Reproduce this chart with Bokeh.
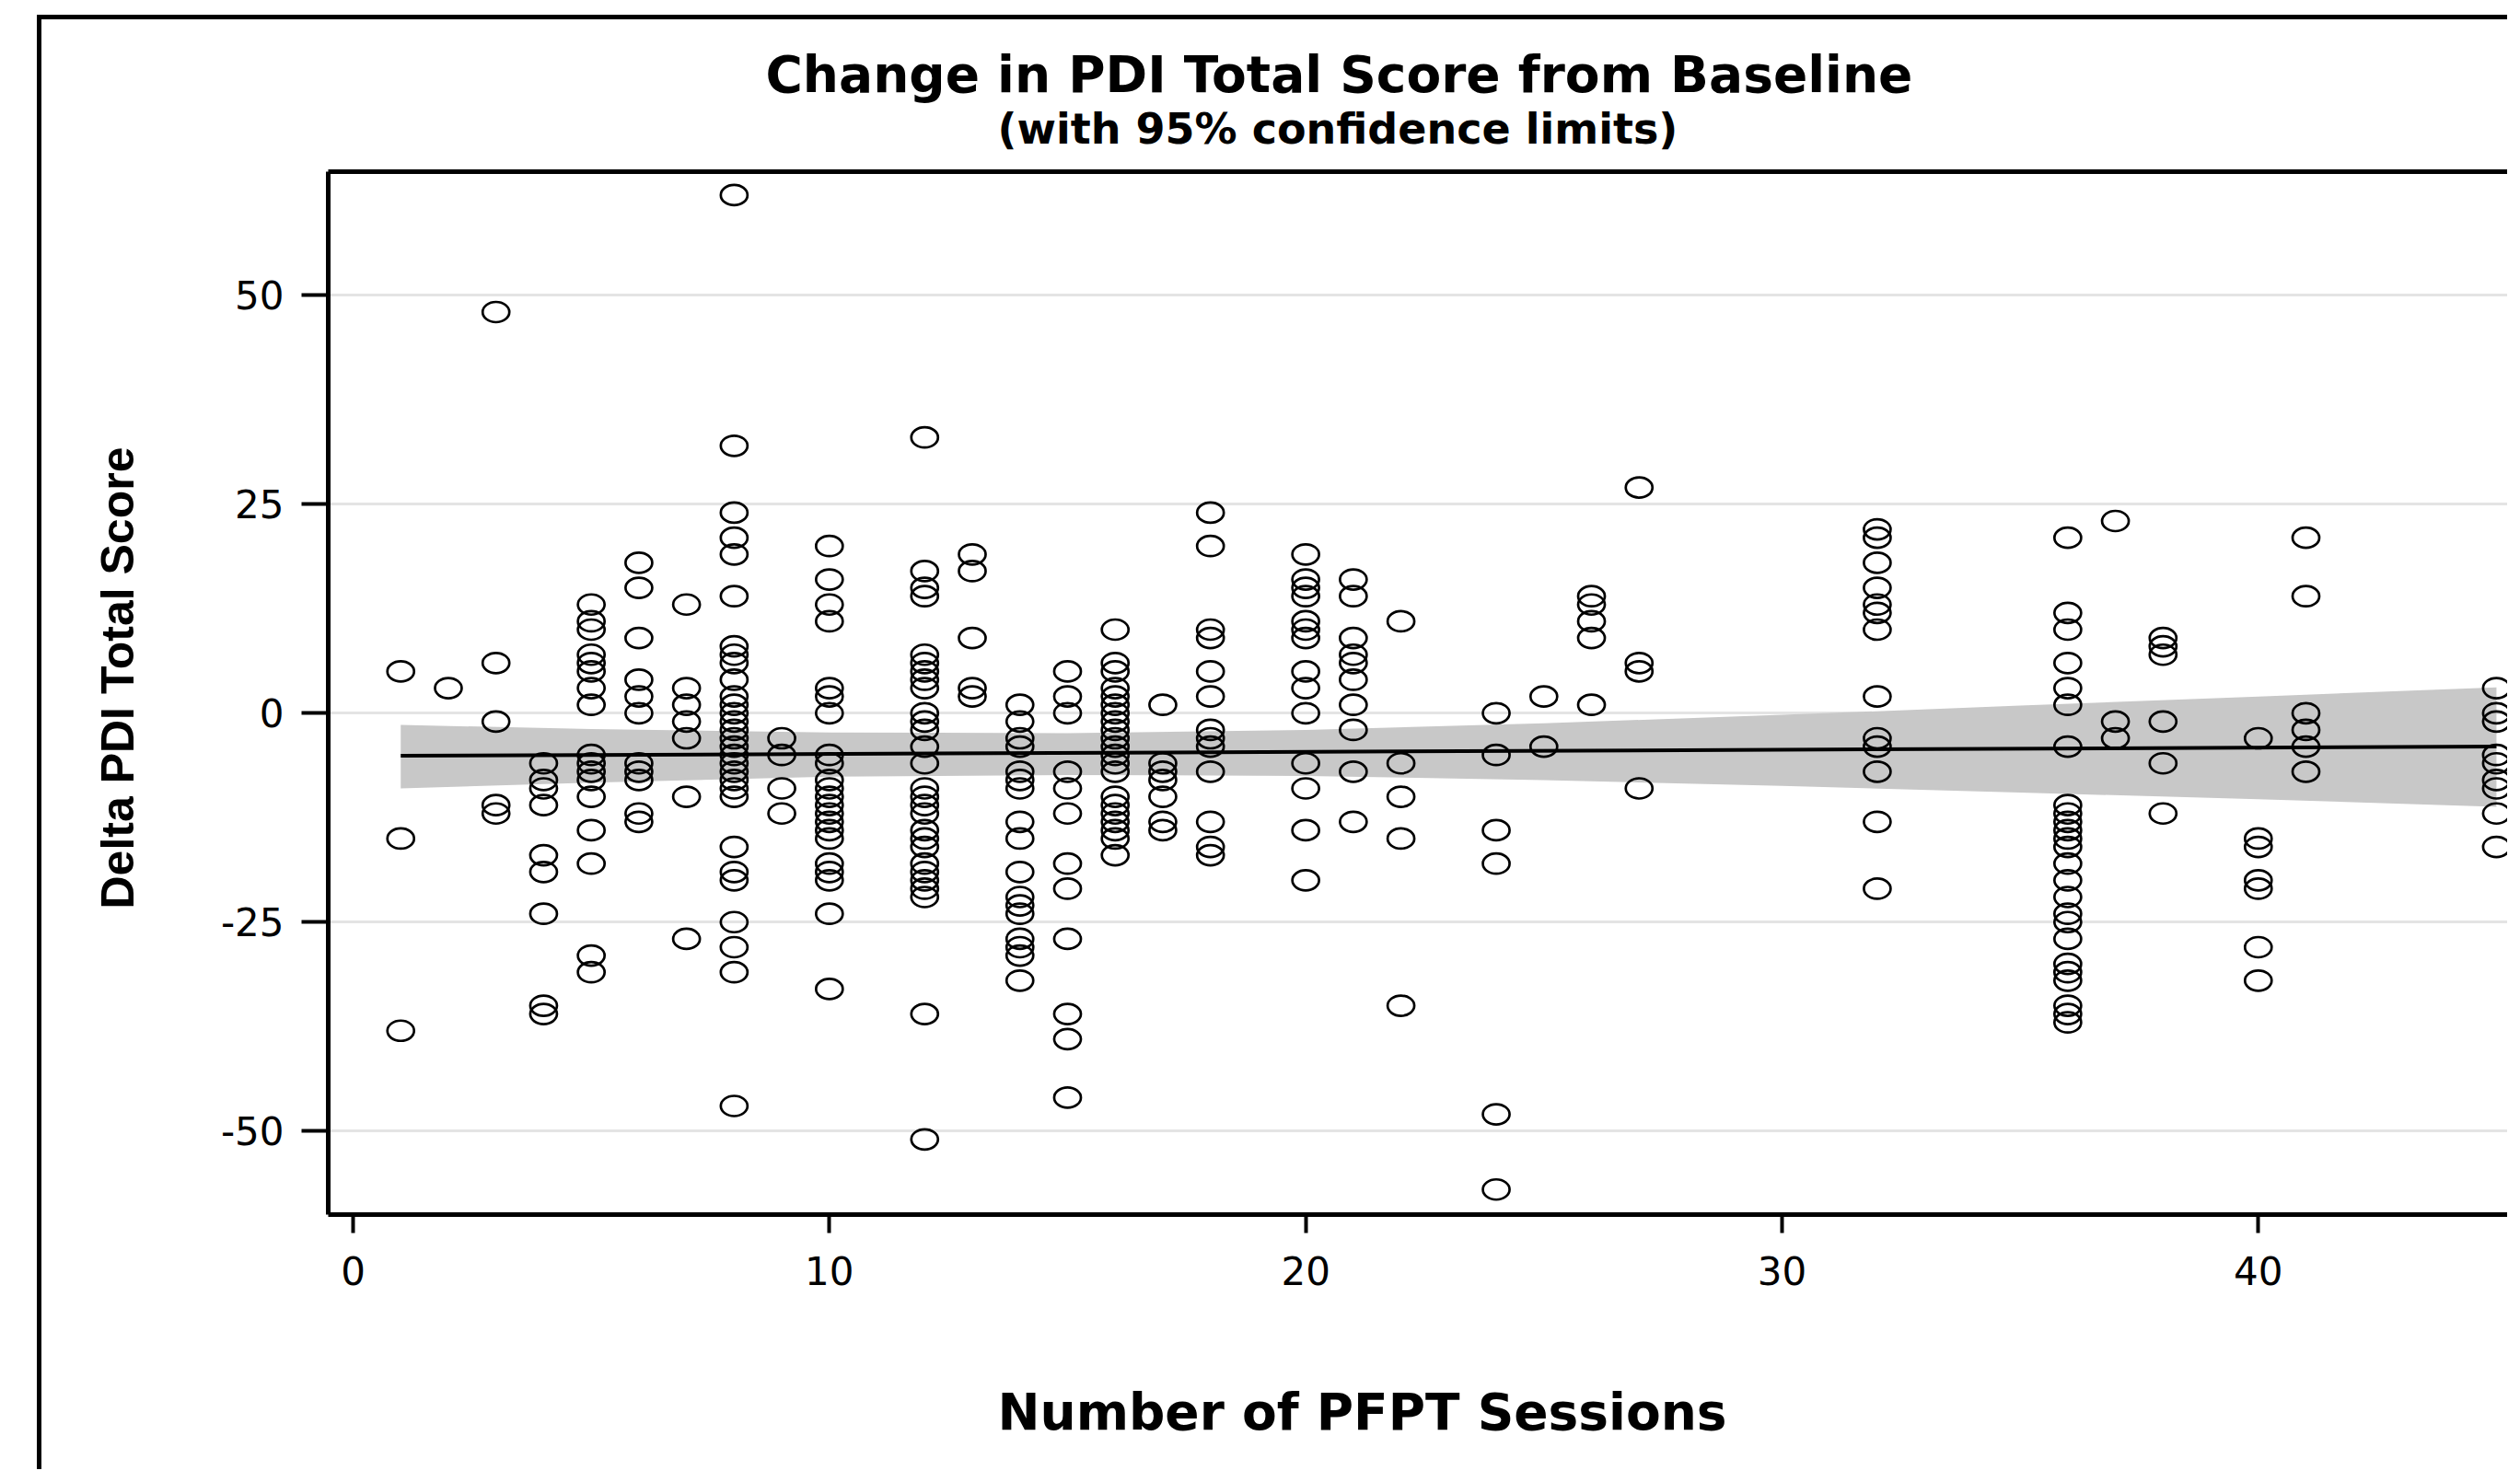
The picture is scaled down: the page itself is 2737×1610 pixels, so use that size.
from bokeh.plotting import figure
from bokeh.models import Range1d, LinearAxis, FixedTicker, Title, ColumnDataSource
from bokeh.embed import file_html
from bokeh.resources import INLINE

# ---------------- data ----------------
session_levels = [1, 2, 3, 4, 5, 6, 7, 8, 9, 10, 12, 13, 14, 15, 16, 17, 18,
                  20, 21, 22, 24, 25, 26, 27, 32, 36, 37, 38, 40, 41, 45]

delta_by_session = [
    [5, -15, -38],                                                    # 1
    [3],                                                              # 2
    [48, 6, -1, -11, -12],                                            # 3
    [-6, -8, -9, -11, -17, -19, -24, -35, -36],                       # 4
    [13, 11, 10, 7, 6, 5, 3, 1, -5, -6, -7, -8, -10, -14, -18, -29, -31],  # 5
    [18, 15, 9, 4, 2, 0, -6, -7, -8, -12, -13],                       # 6
    [13, 3, 1, -1, -3, -10, -27],                                     # 7
    [62, 32, 24, 21, 19, 14, 8, 7, 6, 4, 2, 1, 0, -1, -2, -3, -4, -5, -6,
     -7, -8, -9, -10, -16, -19, -20, -25, -28, -31, -47],              # 8
    [-3, -5, -9, -12],                                                # 9
    [20, 16, 13, 11, 3, 2, 0, -5, -6, -8, -9, -10, -11, -12, -13, -14,
     -15, -18, -19, -20, -24, -33],                                   # 10
    [33, 17, 15, 14, 7, 6, 5, 4, 3, 0, -1, -2, -4, -6, -9, -10, -11, -12,
     -14, -15, -16, -18, -19, -20, -21, -22, -36, -51],               # 12
    [19, 17, 9, 3, 2],                                                # 13
    [1, -1, -3, -4, -7, -8, -9, -13, -15, -19, -22, -23, -24, -27, -28,
     -29, -32],                                                       # 14
    [5, 2, 0, -7, -9, -12, -18, -21, -27, -36, -39, -46],             # 15
    [10, 6, 5, 3, 2, 1, 0, -1, -2, -3, -4, -5, -6, -7, -10, -11, -12, -13,
     -14, -15, -17],                                                  # 16
    [1, -6, -7, -8, -10, -13, -14],                                   # 17
    [24, 20, 10, 9, 5, 2, -2, -3, -4, -7, -13, -16, -17],             # 18
    [19, 16, 15, 14, 11, 10, 9, 5, 3, 0, -6, -9, -14, -20],           # 20
    [16, 14, 9, 7, 6, 4, 1, -2, -7, -13],                             # 21
    [11, -6, -10, -15, -35],                                          # 22
    [0, -5, -14, -18, -48, -57],                                      # 24
    [2, -4],                                                          # 25
    [14, 13, 11, 9, 1],                                               # 26
    [27, 6, 5, -9],                                                   # 27
    [22, 21, 18, 15, 13, 12, 10, 2, -3, -4, -7, -13, -21],            # 32
    [21, 12, 10, 6, 3, 1, -4, -11, -12, -13, -14, -15, -16, -18, -20,
     -22, -24, -25, -27, -30, -31, -32, -35, -36, -37],               # 36
    [23, -1, -3],                                                     # 37
    [9, 8, 7, -1, -6, -12],                                           # 38
    [-3, -15, -16, -20, -21, -28, -32],                               # 40
    [21, 14, 0, -2, -4, -7],                                          # 41
    [3, 0, -1, -5, -6, -8, -9, -12, -16],                             # 45
]

# fitted line and 95% confidence band
fit_sessions = [1, 45]
fit_delta = [-5.1, -4.0]
band_sessions = [1, 5, 10, 15, 20, 25, 30, 35, 40, 45]
band_lower = [-9.0, -8.3, -7.6, -7.4, -7.5, -8.0, -8.7, -9.5, -10.3, -11.2]
band_upper = [-1.4, -1.9, -2.3, -2.4, -2.0, -1.2, -0.2, 0.9, 2.0, 3.1]

x_ticks = [0, 10, 20, 30, 40]
y_ticks = [-50, -25, 0, 25, 50]

title_text = "Change in PDI Total Score from Baseline"
subtitle_text = "(with 95% confidence limits)"
x_title = "Number of PFPT Sessions"
y_title = "Delta PDI Total Score"

# ---------------- build ----------------
xs, ys = [], []
for s, vals in zip(session_levels, delta_by_session):
    for v in vals:
        xs.append(s)
        ys.append(v)
src = ColumnDataSource(dict(x=xs, y=ys))

p = figure(width=2683, height=1580, output_backend="svg", toolbar_location=None,
           x_range=Range1d(-0.522, 45.33), y_range=Range1d(-60.0, 64.8),
           min_border_left=311, min_border_right=0, min_border_top=165,
           min_border_bottom=282)
p.styles = {"margin-left": "40px", "margin-top": "16px",
            "border-left": "5px solid black", "border-top": "5px solid black"}
p.outline_line_color = None
p.background_fill_color = "white"
p.border_fill_color = "white"

p.xgrid.visible = False
p.ygrid.ticker = FixedTicker(ticks=y_ticks)
p.ygrid.grid_line_color = "#e4e4e4"
p.ygrid.grid_line_width = 3

xa = p.xaxis[0]
xa.ticker = FixedTicker(ticks=x_ticks)
xa.major_label_overrides = {t: str(t) for t in x_ticks}
ya = p.yaxis[0]
ya.ticker = FixedTicker(ticks=y_ticks)
ya.major_label_overrides = {t: str(t) for t in y_ticks}
for ax in (xa, ya):
    ax.axis_line_width = 5
    ax.axis_line_color = "black"
    ax.major_tick_line_width = 4
    ax.major_tick_line_color = "black"
    ax.major_tick_in = 0
    ax.minor_tick_line_color = None
    ax.major_label_text_font = "DejaVu Sans"
    ax.major_label_text_font_size = "42px"
    ax.major_label_text_color = "black"
    # invisible spacer labels push the axis titles outward
    ax.axis_label = " "
    ax.axis_label_text_font_size = "1px"
xa.major_tick_out = 20
xa.major_label_standoff = 25
xa.axis_label_standoff = 99
ya.major_tick_out = 29
ya.major_label_standoff = 19
ya.axis_label_standoff = 77

top = LinearAxis(ticker=FixedTicker(ticks=[]), axis_line_width=5,
                 axis_line_color="black", major_tick_line_color=None,
                 minor_tick_line_color=None)
p.add_layout(top, "above")

spacer = Title(text=" ", text_font_size="1px", standoff=15)
sub = Title(text=subtitle_text, align="left", offset=727, vertical_align="top",
            text_font="DejaVu Sans", text_font_size="46px",
            text_font_style="bold", text_color="black", standoff=0)
main = Title(text=title_text, align="left", offset=475, vertical_align="bottom",
             text_font="DejaVu Sans", text_font_size="55px",
             text_font_style="bold", text_color="black", standoff=0)
p.add_layout(spacer, "above")
p.add_layout(sub, "above")
p.add_layout(main, "above")

xt = Title(text=x_title, align="left", offset=727, vertical_align="top",
           text_font="DejaVu Sans", text_font_size="55px",
           text_font_style="bold", text_color="black", standoff=0)
p.add_layout(xt, "below")
yt = Title(text=y_title, align="left", offset=332, vertical_align="bottom",
           text_font="Liberation Sans", text_font_size="50px",
           text_font_style="bold", text_color="black", standoff=0)
p.add_layout(yt, "left")

p.varea(x=band_sessions, y1=band_lower, y2=band_upper, fill_color="#c8c8c8")
p.ellipse(x="x", y="y", width=29, height=22, width_units="screen",
          height_units="screen", fill_color=None, line_color="black",
          line_width=2.7, source=src)
p.line(fit_sessions, fit_delta, line_color="black", line_width=4)

open("out.html", "w").write(file_html(p, INLINE))
